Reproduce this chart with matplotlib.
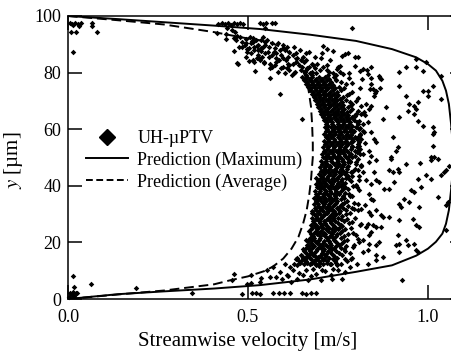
import matplotlib
matplotlib.use('Agg')
import matplotlib.pyplot as plt
from matplotlib.lines import Line2D

plt.rcParams['font.family'] = ['Liberation Serif', 'DejaVu Serif']
plt.rcParams['mathtext.fontset'] = 'stix'

# prediction curves (velocity m/s, y um)
max_u = [0.0, 0.139, 0.267, 0.406, 0.533, 0.672, 0.8, 0.9, 0.967, 1.0, 1.022, 1.04, 1.05, 1.058,
         1.064, 1.068, 1.07, 1.068, 1.064, 1.058, 1.05, 1.04, 1.022, 1.0, 0.967, 0.9, 0.8,
         0.672, 0.533, 0.406, 0.267, 0.139, 0.0]
max_y = [0.0, 1.7, 2.7, 3.7, 4.9, 6.9, 9.6, 11.9, 15.3, 17.8, 20.2, 23.1, 26.6, 31.4,
         38.4, 44.0, 50.0, 56.0, 62.0, 68.9, 73.6, 77.1, 80.7, 83.0, 85.4, 88.3, 91.2,
         93.4, 95.4, 96.6, 97.8, 98.9, 100.0]

avg_u = [0.0, 0.139, 0.267, 0.406, 0.45, 0.5, 0.544, 0.57, 0.598, 0.621, 0.64, 0.653, 0.663,
         0.67, 0.675, 0.678, 0.68, 0.68, 0.678, 0.675, 0.668, 0.66, 0.645, 0.625, 0.6, 0.565,
         0.526, 0.489, 0.406, 0.267, 0.139, 0.0]
avg_y = [0.0, 1.6, 3.0, 5.2, 6.6, 8.0, 9.8, 11.5, 14.3, 17.8, 21.9, 26.6, 31.4,
         36.7, 42.0, 47.0, 50.0, 55.0, 62.0, 68.0, 74.0, 78.5, 82.5, 86.0, 88.5, 90.5,
         91.6, 92.3, 94.3, 97.0, 98.5, 100.0]

# UH-uPTV measurements: dense core, rows of y with the velocities found there
core_y = [12.2, 13.4, 14.6, 15.7, 16.9, 18.1, 19.2, 20.4, 21.6, 22.8, 24.0, 25.1, 26.3, 27.5,
          28.7, 29.9, 31.0, 32.2, 33.4, 34.6, 35.8, 37.0, 38.2, 39.4, 40.5, 41.7, 42.9, 44.1,
          45.3, 46.5, 47.7, 48.9, 50.1, 51.2, 52.4, 53.6, 54.8, 56.0, 57.2, 58.3, 59.5, 60.7,
          61.9, 63.1, 64.3, 65.5, 66.6, 67.8, 69.0, 70.2, 71.4, 72.6, 73.8, 74.9, 76.1, 77.3,
          78.5, 79.7, 80.9, 82.0, 83.2, 84.4, 85.6, 86.8, 88.0, 89.1, 90.3, 91.5, 92.7]
core_u = [
    [.628, .655, .672, .69, .708, .731, .757],
    [.641, .66, .684, .697, .719, .742, .776],
    [.637, .652, .671, .693, .706, .725, .748, .79],
    [.646, .669, .681, .702, .714, .735, .761],
    [.655, .672, .69, .709, .722, .745, .77],
    [.66, .678, .695, .704, .727, .739, .758],
    [.664, .68, .699, .716, .731, .752, .795],
    [.668, .686, .694, .712, .725, .741, .767],
    [.671, .683, .701, .719, .736, .757],
    [.675, .692, .707, .715, .733, .748, .779],
    [.67, .688, .703, .722, .738, .762],
    [.678, .695, .709, .726, .744, .753, .786],
    [.674, .69, .706, .718, .735, .758],
    [.681, .697, .711, .729, .741, .766],
    [.677, .693, .704, .724, .737, .751, .798],
    [.683, .699, .714, .732, .745, .772],
    [.679, .696, .708, .721, .74, .756],
    [.686, .701, .717, .728, .748, .763, .789],
    [.682, .694, .712, .725, .742, .76],
    [.688, .703, .716, .734, .747, .775],
    [.684, .699, .713, .73, .744, .768],
    [.69, .707, .72, .738, .752, .781],
    [.686, .701, .718, .727, .745, .759],
    [.692, .705, .722, .736, .749, .77, .803],
    [.688, .703, .716, .733, .751, .764],
    [.694, .709, .725, .74, .757, .785],
    [.69, .707, .719, .737, .748, .772],
    [.697, .712, .729, .743, .758, .769],
    [.702, .716, .733, .745, .764, .791],
    [.699, .714, .727, .748, .761, .776],
    [.706, .72, .738, .752, .767, .8],
    [.703, .718, .731, .749, .763, .782],
    [.709, .724, .741, .755, .772, .79],
    [.706, .721, .735, .752, .766, .785, .812],
    [.711, .727, .744, .758, .775, .796],
    [.708, .723, .738, .756, .769, .788],
    [.713, .73, .746, .761, .778, .805],
    [.71, .726, .741, .757, .773, .791],
    [.716, .731, .749, .764, .781, .798],
    [.712, .728, .743, .759, .776, .81],
    [.718, .733, .751, .767, .783, .795],
    [.714, .73, .746, .762, .779, .801],
    [.717, .732, .749, .765, .78, .806],
    [.711, .727, .744, .758, .774, .794],
    [.708, .723, .739, .755, .771, .788],
    [.703, .719, .735, .75, .766, .799],
    [.699, .715, .731, .747, .76, .782],
    [.695, .711, .726, .742, .758, .777],
    [.691, .706, .722, .737, .753, .789],
    [.687, .701, .717, .733, .748, .771],
    [.682, .697, .712, .727, .744, .765],
    [.678, .692, .707, .723, .74, .781],
    [.673, .688, .702, .718, .735, .759],
    [.668, .683, .697, .713, .73, .752],
    [.662, .677, .692, .708, .725, .771],
    [.656, .671, .686, .702, .719, .745],
    [.649, .664, .679, .696, .714, .738],
    [.604, .629, .671, .69, .737, .78],
    [.615, .648, .662, .701, .719],
    [.566, .598, .651, .67, .709, .751],
    [.561, .612, .624, .679, .693],
    [.533, .587, .605, .646, .662, .728],
    [.54, .559, .611, .652, .686],
    [.507, .548, .579, .633, .661, .705],
    [.516, .529, .588, .603, .644],
    [.483, .541, .557, .609, .628],
    [.495, .509, .566, .582],
    [.468, .521, .536, .553],
    [.479, .505, .541],
]
# second pass over the core, between the rows above
core2_y = [12.8, 14.0, 15.2, 16.3, 17.5, 18.7, 19.8, 21.0, 22.2, 23.4, 24.6, 25.7, 26.9, 28.1,
           29.3, 30.5, 31.6, 32.8, 34.0, 35.2, 36.4, 37.6, 38.8, 40.0, 41.1, 42.3, 43.5, 44.7,
           45.9, 47.1, 48.3, 49.5, 50.6, 51.8, 53.0, 54.2, 55.4, 56.6, 57.8, 58.9, 60.1, 61.3,
           62.5, 63.7, 64.9, 66.0, 67.2, 68.4, 69.6, 70.8, 72.0, 73.2, 74.4, 75.5, 76.7, 77.9,
           79.1, 80.3, 81.5, 82.6, 83.8, 85.0, 86.2, 87.4, 88.6, 89.7, 90.9, 92.1]
core2_u = [
    [.645, .663, .679, .701, .72, .744],
    [.633, .658, .676, .688, .712, .737, .769],
    [.65, .664, .686, .699, .718, .74],
    [.661, .676, .684, .705, .73, .752, .783],
    [.652, .67, .692, .711, .734, .766],
    [.669, .683, .706, .72, .744, .771],
    [.676, .691, .709, .728, .747, .762],
    [.662, .679, .697, .723, .739, .774],
    [.681, .699, .713, .729, .745, .768],
    [.684, .697, .711, .73, .755, .792],
    [.674, .691, .716, .733, .749, .77],
    [.687, .702, .719, .738, .761],
    [.683, .699, .714, .731, .749, .781],
    [.688, .701, .72, .735, .757, .774],
    [.689, .709, .727, .74, .762],
    [.678, .694, .719, .736, .753, .784],
    [.69, .706, .724, .734, .752, .771],
    [.694, .709, .722, .737, .756, .778],
    [.692, .707, .729, .745, .766, .795],
    [.695, .71, .724, .739, .757],
    [.693, .708, .725, .742, .763, .788],
    [.697, .713, .731, .746, .769],
    [.699, .711, .729, .741, .764, .779],
    [.696, .712, .728, .745, .758, .792],
    [.701, .715, .731, .749, .77],
    [.699, .717, .734, .746, .762, .781],
    [.704, .721, .736, .753, .778, .808],
    [.707, .723, .739, .752, .771, .786],
    [.711, .725, .741, .758, .774, .797],
    [.713, .728, .746, .76, .779, .815],
    [.715, .733, .748, .764, .784, .799],
    [.716, .73, .747, .762, .777, .806],
    [.718, .735, .751, .769, .781, .798],
    [.715, .732, .749, .763, .779, .802],
    [.72, .737, .752, .767, .786, .811],
    [.722, .739, .755, .772, .789],
    [.719, .735, .752, .769, .785, .809],
    [.723, .738, .756, .771, .789, .804],
    [.721, .737, .754, .772, .787, .812],
    [.725, .741, .757, .774, .791],
    [.72, .738, .753, .77, .786, .808],
    [.722, .739, .756, .773, .79],
    [.719, .734, .751, .767, .783, .803],
    [.716, .731, .748, .763, .781],
    [.712, .727, .744, .76, .777, .796],
    [.708, .723, .741, .757, .774],
    [.703, .719, .735, .751, .768, .79],
    [.699, .714, .731, .747, .764],
    [.695, .709, .726, .742, .76, .783],
    [.69, .705, .721, .738, .756],
    [.686, .7, .716, .733, .751, .774],
    [.681, .696, .711, .728, .747],
    [.676, .69, .706, .722, .741, .767],
    [.67, .684, .7, .717, .736],
    [.663, .678, .695, .712, .731, .758],
    [.657, .672, .689, .706, .726],
    [.621, .661, .679, .722, .744],
    [.582, .631, .657, .678, .726, .755],
    [.593, .607, .663, .686],
    [.574, .615, .641, .681, .72],
    [.545, .579, .633, .655],
    [.526, .577, .598, .637, .704],
    [.529, .566, .593, .625],
    [.498, .556, .571, .614, .669],
    [.503, .537, .574, .596],
    [.491, .529, .548, .597],
    [.484, .514, .548],
    [.461, .513],
]

# scattered measurements as (u, y)
wall_pts = [(0.005, 97.5), (0.012, 97.2), (0.02, 97.6), (0.028, 97.3), (0.035, 97.5), (0.015, 96.8),
            (0.03, 96.6), (0.008, 94.2), (0.022, 94.2), (0.014, 87.4), (0.066, 97.4), (0.068, 96.3),
            (0.08, 94.3), (0.004, 0.8), (0.01, 1.5), (0.018, 1.0), (0.006, 2.2), (0.015, 2.6),
            (0.022, 2.0), (0.014, 8.1), (0.016, 4.3), (0.026, 2.2), (0.064, 5.3), (0.19, 3.9)]
top_pts = [(0.414, 94.0), (0.418, 97.3), (0.427, 97.6), (0.436, 97.2), (0.445, 97.5), (0.452, 96.9),
           (0.461, 97.4), (0.47, 97.1), (0.478, 97.6), (0.487, 97.3), (0.442, 95.6), (0.455, 95.2),
           (0.463, 94.4), (0.438, 93.5), (0.47, 93.1), (0.533, 97.6), (0.541, 97.3), (0.55, 97.6),
           (0.566, 97.4), (0.575, 97.6), (0.548, 95.8), (0.79, 95.8), (0.44, 91.9),
           (0.461, 87.6), (0.475, 89.0), (0.472, 83.0), (0.494, 85.5), (0.497, 88.3), (0.511, 91.2),
           (0.517, 89.0), (0.525, 89.4), (0.536, 87.6), (0.503, 84.0), (0.517, 83.7), (0.494, 91.9),
           (0.53, 85.2), (0.545, 83.5), (0.56, 81.8), (0.59, 72.3), (0.65, 63.6), (0.561, 78.1),
           (0.52, 80.5), (0.47, 83.3), (0.515, 84.4)]
upper_right_pts = [(0.76, 86.0), (0.77, 86.6), (0.779, 86.8), (0.797, 85.4), (0.797, 82.5),
                   (0.746, 81.2), (0.755, 82.4), (0.72, 88.3), (0.735, 87.5), (0.707, 89.5),
                   (0.745, 77.5), (0.765, 79.6), (0.78, 78.2), (0.812, 80.6), (0.83, 81.0),
                   (0.818, 77.8), (0.842, 78.2), (0.866, 78.0), (0.79, 76.2), (0.79, 73.2),
                   (0.81, 74.6), (0.84, 74.2), (0.866, 74.5), (0.853, 72.9)]
right_pts = [(0.805, 85.4), (0.819, 81.3), (0.832, 79.5), (0.842, 81.9), (0.865, 78.9), (0.869, 77.7),
             (0.92, 80.1), (0.939, 81.9), (0.967, 84.8), (0.967, 81.9), (0.985, 80.7), (0.994, 83.6),
             (1.036, 78.9), (0.842, 76.0), (0.846, 74.2), (0.851, 71.8), (0.856, 73.6), (0.92, 75.4),
             (0.939, 71.8), (0.985, 73.6), (0.999, 73.6), (1.013, 75.4), (0.999, 71.8), (1.036, 70.7),
             (0.8, 70.1), (0.814, 68.3), (0.828, 68.9), (0.842, 68.3), (0.883, 67.7), (0.948, 68.9),
             (0.962, 68.3), (0.971, 69.5), (0.967, 67.1), (0.944, 66.5), (0.805, 66.5), (0.814, 65.4),
             (0.823, 66.0), (0.837, 67.1), (0.809, 63.0), (0.819, 61.8), (0.832, 62.4), (0.874, 63.6),
             (0.92, 64.2), (0.962, 65.4), (0.971, 63.0), (0.985, 61.2), (1.013, 60.7), (1.018, 58.9),
             (1.013, 58.3), (0.819, 59.5), (0.823, 58.9), (0.842, 58.9), (0.805, 57.1), (0.814, 56.5),
             (0.851, 56.5), (0.856, 55.4), (0.902, 57.1), (0.916, 53.6), (0.911, 52.4), (1.013, 54.2),
             (0.809, 54.2), (0.805, 52.4), (0.837, 52.4), (0.819, 51.2), (0.842, 50.6), (0.897, 50.1),
             (1.008, 50.1), (1.018, 50.1),
             (0.814, 47.3), (0.837, 48.4), (0.856, 49.0), (0.897, 49.6), (0.939, 47.6), (0.978, 48.1),
             (1.008, 49.0), (1.027, 49.3), (1.05, 45.7), (1.057, 46.9), (0.805, 45.5), (0.819, 44.9),
             (0.851, 44.9), (0.893, 45.5), (0.902, 44.9), (0.916, 46.1), (0.92, 44.9), (0.971, 42.5),
             (0.994, 43.7), (1.008, 42.5), (1.036, 43.7), (1.045, 44.9), (0.809, 42.0), (0.842, 40.8),
             (0.856, 42.0), (0.865, 41.4), (0.879, 39.0), (0.893, 39.0), (0.906, 41.4), (0.953, 38.4),
             (0.962, 37.8), (0.981, 39.6), (0.809, 38.4), (0.837, 37.2), (0.842, 35.5), (0.846, 34.9),
             (0.805, 33.7), (0.934, 35.5), (0.92, 33.7), (0.925, 32.5), (0.948, 34.3), (0.976, 32.5),
             (1.027, 36.1), (1.055, 34.3), (1.05, 33.1), (0.805, 31.4), (0.814, 31.9), (0.837, 30.8),
             (0.856, 31.4), (0.869, 29.6), (0.874, 29.0), (0.893, 29.0), (0.92, 27.8), (0.957, 28.4),
             (0.842, 29.6), (0.832, 26.6), (0.814, 26.6), (0.828, 25.5), (0.846, 26.0), (0.856, 25.5),
             (0.869, 25.5), (0.967, 26.0), (0.976, 25.5), (0.916, 22.5), (1.05, 24.3), (0.805, 21.3),
             (0.837, 22.5), (0.842, 23.7), (0.809, 20.2), (0.819, 20.8), (0.837, 19.6), (0.856, 19.0),
             (0.865, 20.2), (0.911, 19.0), (0.92, 19.6), (0.939, 20.8), (0.944, 19.0), (0.962, 19.6),
             (0.967, 17.2), (0.971, 16.6), (0.92, 16.6), (0.856, 15.5), (0.874, 14.9), (0.819, 16.6),
             (0.832, 17.2), (0.832, 12.5), (0.856, 13.7), (0.927, 6.6)]
outer_pts = [(0.785, 14.2), (0.792, 18.5), (0.801, 22.7), (0.788, 27.1), (0.795, 31.9), (0.783, 36.4),
             (0.8, 40.2), (0.79, 43.6), (0.815, 47.0), (0.803, 53.8), (0.826, 55.1), (0.812, 60.3),
             (0.798, 64.8), (0.825, 65.0), (0.806, 70.9), (0.787, 68.5), (0.81, 26.1), (0.824, 33.2),
             (0.777, 48.5), (0.828, 41.9)]
bottom_pts = [(0.552, 10.2), (0.57, 11.3), (0.589, 9.6), (0.602, 12.5), (0.616, 11.3), (0.626, 10.2),
              (0.635, 11.9), (0.649, 13.7), (0.663, 14.9), (0.672, 12.5), (0.681, 10.7), (0.695, 14.9),
              (0.709, 13.7), (0.718, 16.0), (0.727, 12.5), (0.737, 10.7), (0.751, 10.2), (0.769, 9.6),
              (0.783, 11.3), (0.802, 12.5), (0.635, 7.2), (0.667, 6.6), (0.704, 6.6), (0.732, 6.9),
              (0.76, 6.9), (0.653, 8.4), (0.69, 9.0), (0.607, 8.4), (0.579, 7.8), (0.533, 6.0),
              (0.46, 8.8), (0.456, 6.7), (0.497, 5.3), (0.508, 5.6), (0.508, 8.5), (0.536, 7.4),
              (0.56, 7.6), (0.594, 6.9), (0.61, 8.1), (0.62, 5.9), (0.641, 9.1), (0.66, 10.4),
              (0.675, 8.1), (0.698, 11.6), (0.715, 9.8), (0.73, 8.5), (0.748, 12.0), (0.66, 12.9),
              (0.69, 12.1), (0.705, 10.3),
              (0.344, 2.1), (0.483, 1.8), (0.511, 2.0), (0.522, 2.1), (0.533, 1.9), (0.57, 2.1),
              (0.585, 2.0), (0.6, 2.2), (0.617, 2.0), (0.65, 2.1), (0.662, 1.9), (0.675, 2.2), (0.69, 2.0)]

labels = ['UH-\u00b5PTV', 'Prediction (Maximum)', 'Prediction (Average)']

pts_u = []
pts_y = []
for yy, row in list(zip(core_y, core_u)) + list(zip(core2_y, core2_u)):
    pts_u += row
    pts_y += [yy] * len(row)
for u, yy in wall_pts + top_pts + upper_right_pts + right_pts + outer_pts + bottom_pts:
    pts_u.append(u)
    pts_y.append(yy)

fig = plt.figure(figsize=(4.52, 3.53), dpi=100)
ax = fig.add_axes([68 / 452, 54 / 353, 396 / 452, 283 / 353])

ax.scatter(pts_u, pts_y, marker='D', s=8, c='k', linewidths=0, zorder=2, clip_on=False)
ax.plot(max_u, max_y, color='k', lw=1.4, zorder=3)
ax.plot(avg_u, avg_y, color='k', lw=1.4, ls='--', dashes=(5, 2.5), zorder=3)

ax.set_xlim(0, 1.1)
ax.set_ylim(0, 100)
ax.set_xticks([0.0, 0.5, 1.0])
ax.set_xticklabels(['0.0', '0.5', '1.0'])
ax.set_yticks([0, 20, 40, 60, 80, 100])
ax.tick_params(direction='in', length=10, width=1.1, top=True, right=True, labelsize=13, pad=5)
ax.tick_params(axis='x', pad=7)
for s in ax.spines.values():
    s.set_linewidth(1.1)

ax.set_xlabel('Streamwise velocity [m/s]', fontsize=15)
ax.xaxis.set_label_coords(0.4545, -0.117)
ax.set_ylabel('$y$ [\u00b5m]', fontsize=15)
ax.yaxis.set_label_coords(-0.108, 0.49)

handles = [Line2D([], [], marker='D', ls='none', color='k', ms=8),
           Line2D([], [], color='k', lw=1.4),
           Line2D([], [], color='k', lw=1.4, ls='--', dashes=(3.5, 1.8))]
ax.legend(handles, labels, loc='upper left', bbox_to_anchor=(0.045, 0.597), frameon=False,
          fontsize=13, handlelength=2.35, handletextpad=0.5, labelspacing=0.25,
          borderpad=0, borderaxespad=0)

fig.savefig('out.png', dpi=100)
